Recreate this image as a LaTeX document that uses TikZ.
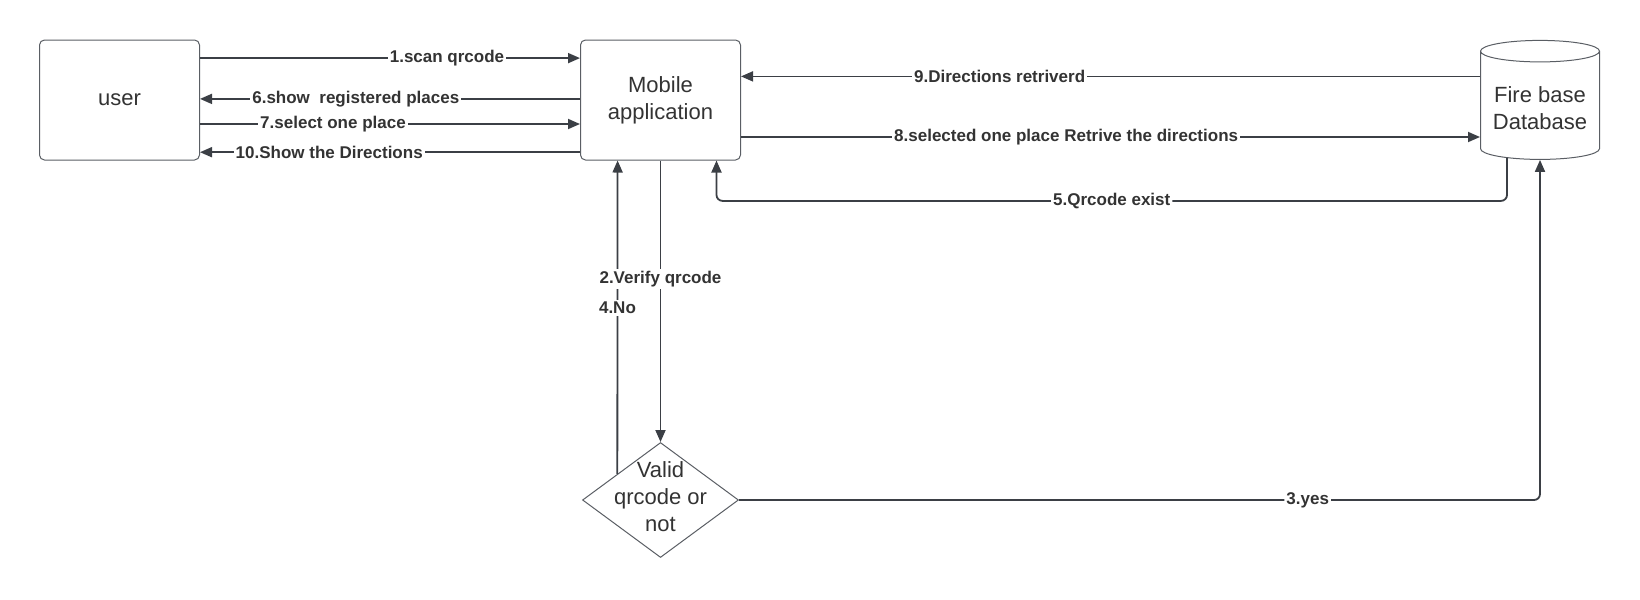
\documentclass[tikz,border=0pt]{standalone}
\usepackage{fontspec}
\setmainfont{Liberation Sans}
\usetikzlibrary{shapes.geometric, arrows.meta, positioning, calc}
\definecolor{linec}{HTML}{3B3F45}
\definecolor{txtc}{HTML}{333333}
\definecolor{edgec}{HTML}{5A5E64}
\tikzstyle{box} = [draw=edgec, line width=0.5pt, fill=white, rectangle, rounded corners=2.5pt, minimum width=80pt, minimum height=60pt, align=center, text=txtc, font=\fontsize{11}{13.5}\selectfont]
\tikzstyle{store} = [draw=edgec, line width=0.5pt, fill=white, cylinder, shape border rotate=90, aspect=0.2, minimum width=59.5pt, minimum height=59.5pt, align=center, text=txtc, font=\fontsize{11}{13.5}\selectfont]
\tikzstyle{decision} = [draw=edgec, line width=0.5pt, fill=white, diamond, minimum width=78pt, minimum height=57.5pt, inner sep=0pt]
\tikzstyle{flow} = [draw=linec, line width=0.9pt, ->]
\tikzstyle{lbl} = [fill=white, inner sep=1pt, text=txtc, font=\bfseries\fontsize{8.5}{10}\selectfont]

\begin{document}
\begin{tikzpicture}[>={Triangle[length=6pt,width=5pt]}, x=0.5pt, y=-0.5pt]
  \useasboundingbox (0,0) rectangle (1640,600);
  \node[box] (user) at (119.5,100) {user};
  \node[box, right=190pt of user] (app) {Mobile\\application};
  \node[store, right=369.5pt of app, yshift=-4pt] (db) {Fire base\\Database};
  \node[decision, below=140.75pt of app] (valid) {};
  \node[align=center, text=txtc, font=\fontsize{11}{13.5}\selectfont] (validtext) at ([yshift=1.5pt]valid.center) {Valid\\qrcode or\\not};
  % user <-> app
  \draw[flow] ([yshift=-9.3pt]user.north east) -- node[lbl, pos=0.65] {1.scan qrcode} ([yshift=-9.3pt]app.north west);
  \draw[flow] ([yshift=-29.7pt]app.north west) -- node[lbl, pos=0.59] {6.show\ \ registered places} ([yshift=-29.7pt]user.north east);
  \draw[flow] ([yshift=-42.25pt]user.north east) -- node[lbl, pos=0.35] {7.select one place} ([yshift=-42.25pt]app.north west);
  \draw[flow] ([yshift=-56.35pt]app.north west) -- node[lbl, pos=0.66] {10.Show the Directions} ([yshift=-56.35pt]user.north east);
  % app <-> db
  \draw[flow] ([yshift=15.8pt]db.west) -- node[lbl, pos=0.65] {9.Directions retriverd} ([yshift=11.8pt]app.east);
  \draw[flow] ([yshift=-18.5pt]app.east) -- node[lbl, pos=0.44] {8.selected one place Retrive the directions} ([yshift=-14.5pt]db.west);
  \draw[flow, rounded corners=3pt] ([xshift=-16.5pt, yshift=1pt]db.south) -- ++(0,43) -| node[lbl, pos=0.25] {5.Qrcode exist} ([xshift=28pt]app.south);
  % verification
  \draw[flow] ($(valid.north)!0.55!(valid.west)$) -- node[lbl, pos=0.53] {4.No} ([xshift=-21.45pt]app.south);
  \draw[flow] (app.south) -- node[lbl, pos=0.42] {2.Verify qrcode} (valid.north);
  \draw[flow, rounded corners=3pt] (valid.east) -| node[lbl, pos=0.355] {3.yes} (db.south);
\end{tikzpicture}
\end{document}
